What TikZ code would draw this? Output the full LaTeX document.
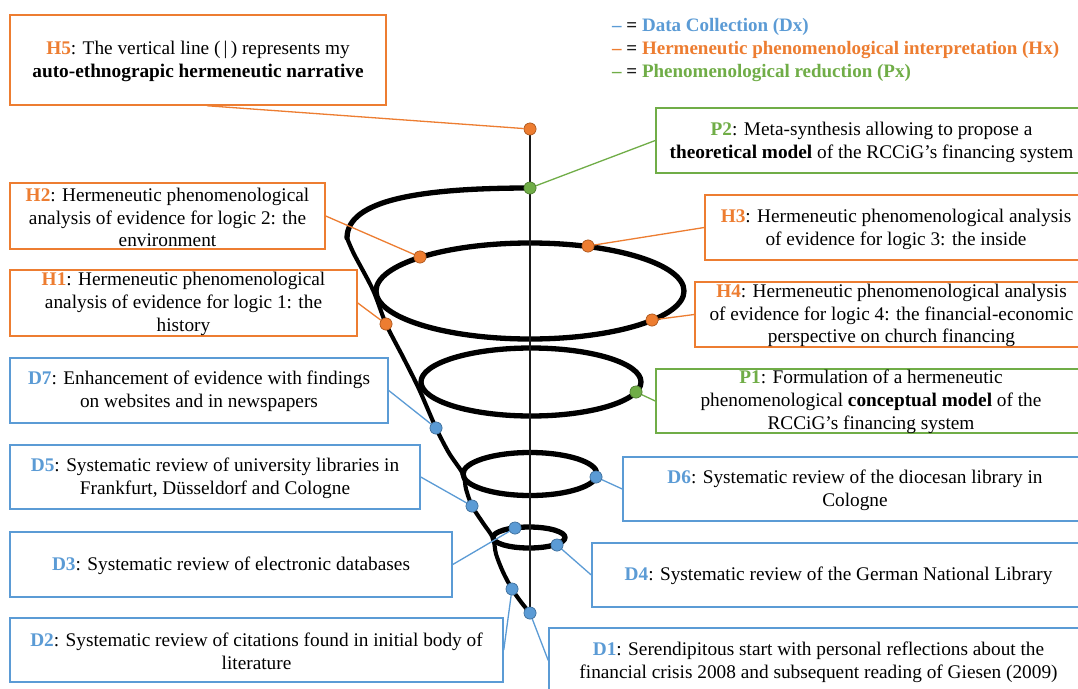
\documentclass[tikz,border=0pt]{standalone}
\usepackage{fontspec}
\setmainfont{Liberation Serif}
\usetikzlibrary{calc}
\definecolor{hor}{HTML}{ED7D31}
\definecolor{pgr}{HTML}{70AD47}
\definecolor{dbl}{HTML}{5B9BD5}
\definecolor{ink}{HTML}{1A1A1A}
\tikzset{
  frame/.style={draw=#1, line width=1.5pt, fill=white, inner sep=0pt},
  txt/.style={font=\fontsize{19.3}{22.8}\selectfont, align=center, inner sep=0pt},
  legend/.style={font=\fontsize{19}{23}\selectfont\bfseries, anchor=west, inner sep=0pt},
  dot/.style={circle, fill=#1, draw=#1!75!black, line width=0.6pt, minimum size=12pt, inner sep=0pt},
  link/.style={draw=#1, line width=1.3pt},
  coil/.style={line width=5.3pt, line cap=round, line join=round, draw=black},
  cone/.style={line width=4.1pt, line cap=round, line join=round, draw=black},
  axis/.style={line width=2.3pt, draw=ink},
}
\newcommand{\lab}[2]{\textbf{\color{#1}#2}}

\begin{document}
\begin{tikzpicture}[x=1pt,y=-1pt]
\useasboundingbox (0,0) rectangle (1078,688);
\clip (0,0) rectangle (1078,688);
\fill[white] (0,0) rectangle (1078,688);

% legend
\node[legend] (leg1) at (612,27) {{\color{dbl}–} {\color{ink}=} {\color{dbl}Data Collection (Dx)}};
\node[legend] (leg2) at (612,50) {{\color{hor}–} {\color{ink}=} {\color{hor}Hermeneutic phenomenological interpretation (Hx)}};
\node[legend] (leg3) at (612,73) {{\color{pgr}–} {\color{ink}=} {\color{pgr}Phenomenological reduction (Px)}};

% frames of the step descriptions
\node[frame=hor, minimum width=376, minimum height=90] (h5) at (198,60) {};
\node[frame=pgr, minimum width=431, minimum height=65] (p2) at (871.5,140.5) {};
\node[frame=hor, minimum width=315, minimum height=66] (h2) at (167.5,216) {};
\node[frame=hor, minimum width=382, minimum height=65] (h3) at (896,227.5) {};
\node[frame=hor, minimum width=347, minimum height=66] (h1) at (183.5,303) {};
\node[frame=hor, minimum width=393, minimum height=65] (h4) at (891.5,314.5) {};
\node[frame=dbl, minimum width=378, minimum height=65] (d7) at (199,390.5) {};
\node[frame=pgr, minimum width=430, minimum height=64] (p1) at (871,401) {};
\node[frame=dbl, minimum width=410, minimum height=64] (d5) at (215,477) {};
\node[frame=dbl, minimum width=464, minimum height=64] (d6) at (855,489) {};
\node[frame=dbl, minimum width=442, minimum height=65] (d3) at (231,564.5) {};
\node[frame=dbl, minimum width=493, minimum height=64] (d4) at (838.5,575) {};
\node[frame=dbl, minimum width=493, minimum height=64] (d2) at (256.5,650) {};
\node[frame=dbl, minimum width=539, minimum height=65] (d1) at (818.5,660.5) {};

% texts
\node[txt] (h5t) at ($(h5)+(0,1.5)$) {\lab{hor}{H5}: The vertical line (\,|\,) represents my\\\textbf{auto-ethnograpic hermeneutic narrative}};
\node[txt] (p2t) at ($(p2)+(0,1.5)$) {\lab{pgr}{P2}: Meta-synthesis allowing to propose a\\\textbf{theoretical model} of the RCCiG’s financing system};
\node[txt] (h2t) at ($(h2)+(0,1.5)$) {\lab{hor}{H2}: Hermeneutic phenomenological\\analysis of evidence for logic 2: the\\environment};
\node[txt] (h3t) at ($(h3)+(0,1.5)$) {\lab{hor}{H3}: Hermeneutic phenomenological analysis\\of evidence for logic 3: the inside};
\node[txt] (h1t) at ($(h1)+(0,1)$) {\lab{hor}{H1}: Hermeneutic phenomenological\\analysis of evidence for logic 1: the\\history};
\node[txt] (h4t) at ($(h4)+(0,1)$) {\lab{hor}{H4}: Hermeneutic phenomenological analysis\\of evidence for logic 4: the financial-economic\\perspective on church financing};
\node[txt] (d7t) at ($(d7)+(0,1)$) {\lab{dbl}{D7}: Enhancement of evidence with findings\\on websites and in newspapers};
\node[txt] (p1t) at ($(p1)+(0,1)$) {\lab{pgr}{P1}: Formulation of a hermeneutic\\phenomenological \textbf{conceptual model} of the\\RCCiG’s financing system};
\node[txt] (d5t) at ($(d5)+(0,1)$) {\lab{dbl}{D5}: Systematic review of university libraries in\\Frankfurt, Düsseldorf and Cologne};
\node[txt] (d6t) at ($(d6)+(0,1)$) {\lab{dbl}{D6}: Systematic review of the diocesan library in\\Cologne};
\node[txt] (d3t) at ($(d3)+(0,1)$) {\lab{dbl}{D3}: Systematic review of electronic databases};
\node[txt] (d4t) at ($(d4)+(0,1)$) {\lab{dbl}{D4}: Systematic review of the German National Library};
\node[txt] (d2t) at ($(d2)+(0,1.5)$) {\lab{dbl}{D2}: Systematic review of citations found in initial body of\\literature};
\node[txt] (d1t) at ($(d1)+(0,2)$) {\lab{dbl}{D1}: Serendipitous start with personal reflections about the\\financial crisis 2008 and subsequent reading of Giesen (2009)};

% the widening spiral
\draw[coil] (530,188) .. controls (420,188) and (347,200) .. (347,238);
\draw[cone] plot[smooth, tension=0.5] coordinates {(347,238) (354,254) (373,290) (386,324) (403,357) (419,389) (436,428) (449,453) (463,474) (466,489) (472,506) (483,523) (493,538) (496,554) (503,572) (512,589) (521,602) (530,613)};
\draw[coil] (530,291) ellipse [x radius=154, y radius=48];
\draw[coil] (531,382) ellipse [x radius=110, y radius=34];
\draw[coil] (530,474) ellipse [x radius=67, y radius=21.5];
\draw[coil] (529,537.5) ellipse [x radius=36, y radius=10.5];

% markers on the spiral
\node[dot=hor] (h5dot) at (530,129) {};
\node[dot=pgr] (p2dot) at (530,188) {};
\node[dot=hor] (h2dot) at (420,257) {};
\node[dot=hor] (h3dot) at (588,246) {};
\node[dot=hor] (h1dot) at (386,324) {};
\node[dot=hor] (h4dot) at (652,320) {};
\node[dot=pgr] (p1dot) at (636,392) {};
\node[dot=dbl] (d7dot) at (436,428) {};
\node[dot=dbl] (d6dot) at (596,477) {};
\node[dot=dbl] (d5dot) at (472,506) {};
\node[dot=dbl] (d3dot) at (515,528) {};
\node[dot=dbl] (d4dot) at (557,545) {};
\node[dot=dbl] (d2dot) at (512,589) {};
\node[dot=dbl] (d1dot) at (530,613) {};

% the narrative axis
\draw[axis] (h5dot.center) -- (d1dot.center);

% connectors
\draw[link=hor] ($(h5.south)+(9,0)$) -- (h5dot);
\draw[link=pgr] (p2.west) -- (p2dot);
\draw[link=hor] (h2.east) -- (h2dot);
\draw[link=hor] (h3.west) -- (h3dot);
\draw[link=hor] (h1.east) -- (h1dot);
\draw[link=hor] (h4.west) -- (h4dot);
\draw[link=dbl] (d7.east) -- (d7dot);
\draw[link=pgr] (p1.west) -- (p1dot);
\draw[link=dbl] (d5.east) -- (d5dot);
\draw[link=dbl] (d6.west) -- (d6dot);
\draw[link=dbl] (d3.east) -- (d3dot);
\draw[link=dbl] (d4.west) -- (d4dot);
\draw[link=dbl] (d2.east) -- (d2dot);
\draw[link=dbl] (d1.west) -- (d1dot);

% markers redrawn on top of the lines
\foreach \n/\c/\x/\y in {h5dot/hor/530/129, p2dot/pgr/530/188, h2dot/hor/420/257, h3dot/hor/588/246,
  h1dot/hor/386/324, h4dot/hor/652/320, p1dot/pgr/636/392, d7dot/dbl/436/428, d6dot/dbl/596/477,
  d5dot/dbl/472/506, d3dot/dbl/515/528, d4dot/dbl/557/545, d2dot/dbl/512/589, d1dot/dbl/530/613}
  \fill[\c, draw=\c!75!black, line width=0.6pt] (\x,\y) circle (6);
\end{tikzpicture}
\end{document}
